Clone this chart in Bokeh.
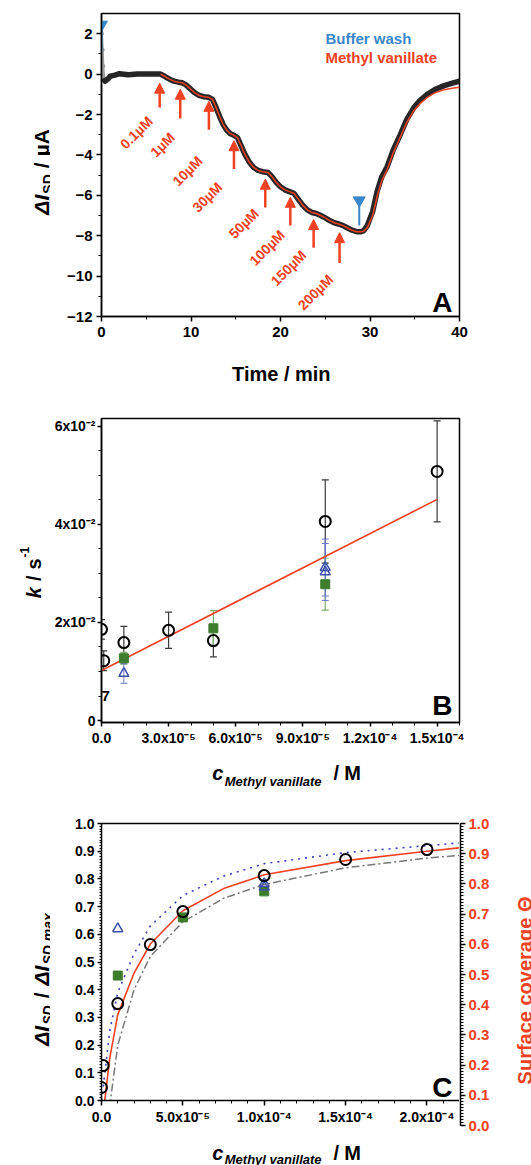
import math
import numpy as np
from bokeh.plotting import figure
from bokeh.layouts import column, row
from bokeh.models import (FixedTicker, CustomJSTickFormatter, Label, ColumnDataSource,
                          Whisker, TeeHead, Arrow, NormalHead, LinearAxis, Range1d)
from bokeh.embed import file_html
from bokeh.resources import INLINE
from bokeh.core.properties import value

# ---------------- Panel A data ----------------
trace_t = [0.00, 0.08, 0.15, 0.25, 0.40, 0.70, 1.00, 1.50, 2.00, 3.00, 4.00, 5.00, 6.00,
           6.60, 7.10, 7.60, 8.10, 8.60, 9.00, 9.40, 9.90, 10.40, 10.90, 11.40, 12.00,
           12.40, 12.80, 13.20, 13.60, 14.00, 14.40, 14.80, 15.20, 15.60, 16.00, 16.50,
           17.00, 17.50, 18.00, 18.60, 19.00, 19.50, 20.00, 20.50, 21.00, 21.50, 22.00,
           22.50, 23.00, 23.50, 24.00, 24.50, 25.00, 25.50, 26.00, 26.50, 27.00, 27.50,
           28.00, 28.50, 29.00, 29.30, 29.70, 30.30, 30.80, 31.30, 31.90, 32.60, 33.40,
           34.10, 34.90, 35.60, 36.40, 37.30, 38.30, 39.20, 40.00]
trace_y = [2.00, 1.20, 0.40, -0.20, -0.35, -0.25, -0.10, -0.05, 0.02, -0.03, 0.00, 0.00, 0.00,
           0.00, -0.12, -0.25, -0.35, -0.40, -0.43, -0.52, -0.72, -0.92, -1.05, -1.12, -1.15,
           -1.25, -1.65, -2.10, -2.50, -2.78, -2.95, -3.03, -3.15, -3.55, -3.95, -4.35,
           -4.62, -4.77, -4.83, -4.87, -5.05, -5.35, -5.58, -5.73, -5.82, -5.90, -6.20,
           -6.50, -6.72, -6.85, -6.90, -7.00, -7.12, -7.25, -7.36, -7.42, -7.50, -7.62,
           -7.73, -7.80, -7.80, -7.75, -7.50, -6.80, -5.80, -5.10, -4.60, -3.75, -2.98,
           -2.25, -1.66, -1.30, -1.00, -0.75, -0.57, -0.45, -0.35]
fit_t = [6.60, 7.10, 7.60, 8.10, 8.60, 9.00, 9.40, 9.90, 10.40, 10.90, 11.40, 12.00,
         12.40, 12.80, 13.20, 13.60, 14.00, 14.40, 14.80, 15.20, 15.60, 16.00, 16.50,
         17.00, 17.50, 18.00, 18.60, 19.00, 19.50, 20.00, 20.50, 21.00, 21.50, 22.00,
         22.50, 23.00, 23.50, 24.00, 24.50, 25.00, 25.50, 26.00, 26.50, 27.00, 27.50,
         28.00, 28.50, 29.00, 29.30, 29.70, 30.30, 30.80, 31.30, 31.90, 32.60, 33.40,
         34.10, 34.90, 35.60, 36.40, 37.30, 38.30, 39.20, 40.00]
fit_y = [0.00, -0.12, -0.25, -0.35, -0.40, -0.43, -0.52, -0.72, -0.92, -1.05, -1.12, -1.15,
         -1.25, -1.65, -2.10, -2.50, -2.78, -2.95, -3.03, -3.15, -3.55, -3.95, -4.35,
         -4.62, -4.77, -4.83, -4.87, -5.05, -5.35, -5.58, -5.73, -5.82, -5.90, -6.20,
         -6.50, -6.72, -6.85, -6.90, -7.00, -7.12, -7.25, -7.36, -7.42, -7.50, -7.62,
         -7.73, -7.80, -7.80, -7.78, -7.60, -7.00, -6.05, -5.30, -4.75, -3.90, -3.10,
         -2.40, -1.80, -1.45, -1.15, -0.92, -0.77, -0.70, -0.65]
wash_t = [0.0, 28.8]
wash_top = [2.45, -6.25]
wash_bottom = [1.2, -7.5]
inject_t = [6.5, 8.8, 12.0, 14.8, 18.3, 21.1, 23.7, 26.6]
inject_tip = [-0.45, -0.75, -1.35, -3.3, -5.2, -6.1, -7.2, -7.85]
inject_base = [-1.65, -2.2, -2.75, -4.7, -6.6, -7.5, -8.6, -9.35]
conc_labels = ["0.1µM", "1µM", "10µM", "30µM", "50µM", "100µM", "150µM", "200µM"]
conc_label_t = [3.9, 6.8, 9.6, 11.8, 15.9, 18.5, 20.9, 23.9]
conc_label_y = [-2.9, -3.5, -4.8, -6.1, -7.4, -8.6, -9.6, -10.8]
a_xticks = [0, 10, 20, 30, 40]
a_yticks = [-12, -10, -8, -6, -4, -2, 0, 2]

# ---------------- Panel B data ----------------
b_circ_x = [0.0, 1e-6, 1e-5, 3e-5, 5e-5, 1e-4, 1.5e-4]
b_circ_y = [0.0186, 0.0122, 0.0159, 0.0184, 0.0163, 0.0406, 0.0508]
b_circ_err = [0.002, 0.002, 0.0033, 0.0037, 0.0033, 0.0085, 0.0103]
b_sq_x = [1e-5, 5e-5, 1e-4]
b_sq_y = [0.0127, 0.0188, 0.0278]
b_sq_err = [0.0012, 0.0036, 0.0053]
b_tri_x = [1e-5, 1e-4, 1e-4]
b_tri_y = [0.0096, 0.0312, 0.0303]
b_tri_err = [0.002, 0.0058, 0.0058]
b_fit_x = [0.0, 1.5e-4]
b_fit_y = [0.0102, 0.0451]
b_xticks = [0.0, 3e-5, 6e-5, 9e-5, 1.2e-4, 1.5e-4]
b_xlabels = ["0.0", "3.0x10⁻⁵", "6.0x10⁻⁵", "9.0x10⁻⁵", "1.2x10⁻⁴", "1.5x10⁻⁴"]
b_yticks = [0.0, 0.02, 0.04, 0.06]
b_ylabels = ["0", "2x10⁻²", "4x10⁻²", "6x10⁻²"]

# ---------------- Panel C data ----------------
c_circ_x = [0.0, 1e-6, 1e-5, 3e-5, 5e-5, 1e-4, 1.5e-4, 2e-4]
c_circ_y = [0.047, 0.126, 0.35, 0.563, 0.682, 0.812, 0.87, 0.906]
c_sq_x = [1e-5, 5e-5, 1e-4]
c_sq_y = [0.451, 0.661, 0.755]
c_tri_x = [1e-5, 1e-4, 1e-4]
c_tri_y = [0.62, 0.783, 0.77]
c_red_x = [0.05e-5, 0.2e-5, 0.5e-5, 1e-5, 2e-5, 3e-5, 5e-5, 7.5e-5, 1e-4, 1.5e-4, 2e-4, 2.2e-4]
c_red_y = [-0.08, 0.0, 0.15, 0.31, 0.46, 0.565, 0.685, 0.765, 0.815, 0.866, 0.90, 0.912]
c_blue_x = [0.0, 0.25e-5, 0.5e-5, 1e-5, 2e-5, 3e-5, 5e-5, 7.5e-5, 1e-4, 1.5e-4, 2e-4, 2.2e-4]
c_blue_y = [0.0, 0.12, 0.25, 0.39, 0.53, 0.63, 0.74, 0.81, 0.855, 0.895, 0.92, 0.93]
c_gray_x = [0.2e-5, 0.55e-5, 1e-5, 2e-5, 3e-5, 5e-5, 7.5e-5, 1e-4, 1.5e-4, 2e-4, 2.2e-4]
c_gray_y = [-0.08, 0.0, 0.2, 0.40, 0.52, 0.645, 0.73, 0.78, 0.84, 0.875, 0.885]
c_xticks = [0.0, 5e-5, 1e-4, 1.5e-4, 2e-4]
c_xlabels = ["0.0", "5.0x10⁻⁵", "1.0x10⁻⁴", "1.5x10⁻⁴", "2.0x10⁻⁴"]
c_yticks = [round(0.1 * i, 1) for i in range(11)]

# ---------------- styling ----------------
FONT = "Liberation Sans"
RED = "#ef4123"
BLUE_L = "#3a87c9"
GREEN = "#3d7d2c"
BLUE_D = "#3c4fa9"

W = {' ': 0.278, '/': 0.278, 'A': 0.722, 'B': 0.722, 'I': 0.278, 'S': 0.667, 'D': 0.722,
     'M': 0.833, 'T': 0.611, 'Δ': 0.65, 'Θ': 0.778, 'µ': 0.611, 'k': 0.556, 's': 0.556,
     'c': 0.556, 'e': 0.556, 't': 0.333, 'h': 0.611, 'y': 0.556, 'l': 0.278, 'v': 0.556,
     'a': 0.556, 'n': 0.611, 'i': 0.278, 'm': 0.889, 'x': 0.556, ',': 0.278, '-': 0.333,
     '1': 0.556, 'u': 0.611, 'r': 0.389, 'f': 0.333, 'o': 0.611, 'g': 0.611, 'w': 0.778}


def tw(s, size):
    return sum(W.get(ch, 0.6) for ch in s) * size


def clean(p):
    p.xgrid.visible = False
    p.ygrid.visible = False
    return p


def label(p, ox, oy, px, py, text, size, style="bold", color="black", align="left",
          baseline="alphabetic", angle=0.0):
    # annotation given in page pixels; (ox, oy) = page position of the canvas
    p.add_layout(Label(x=px - ox, y=py - oy, x_units="canvas", y_units="canvas", text=text,
                       angle=angle, text_align=align, text_baseline=baseline,
                       text_font=FONT, text_font_size=f"{size}px",
                       text_font_style=style, text_color=color))


class TextFig:
    """A plain figure whose frame is the whole canvas, used for axis titles."""

    def __init__(self, ox, oy, w, h):
        self.ox, self.oy, self.w, self.h = ox, oy, w, h
        self.p = clean(figure(width=w, height=h, x_range=Range1d(0, w), y_range=Range1d(0, h),
                              min_border=0, x_axis_location=None, y_axis_location=None,
                              toolbar_location=None, output_backend="svg",
                              outline_line_color=None, background_fill_color="white",
                              border_fill_color="white"))

    def rich(self, pieces, cx, cy, angle=0.0, color="black"):
        # pieces: (text, size, style, baseline shift, gap before)
        total = sum(tw(t, sz) + g for t, sz, st, dy, g in pieces)
        off = -total / 2
        for t, sz, st, dy, g in pieces:
            off += g
            w = tw(t, sz)
            if angle == 0.0:
                label(self.p, self.ox, self.oy, cx + off, cy - dy, t, sz, st, color, "left")
            else:
                label(self.p, self.ox, self.oy, cx - dy, cy - off, t, sz, st, color, "left",
                      angle=angle)
            off += w


def style_axis(ax, size=15, color="black", tick_out=5, minor_out=3, standoff=4):
    ax.axis_line_width = 1.5
    ax.axis_line_color = "black"
    ax.major_tick_line_width = 1.5
    ax.major_tick_line_color = "black"
    ax.minor_tick_line_width = 1.0
    ax.minor_tick_line_color = "black"
    ax.major_tick_in = 0
    ax.major_tick_out = tick_out
    ax.minor_tick_in = 0
    ax.minor_tick_out = minor_out
    ax.major_label_text_font = FONT
    ax.major_label_text_font_style = "bold"
    ax.major_label_text_font_size = f"{size}px"
    ax.major_label_text_color = color
    ax.major_label_standoff = standoff


def main_fig(frame_h, top, bottom, right, xr, yr, **kw):
    return clean(figure(frame_width=358, frame_height=frame_h, min_border_left=51,
                        min_border_right=right, min_border_top=top, min_border_bottom=bottom,
                        x_range=Range1d(*xr), y_range=Range1d(*yr), output_backend="svg",
                        toolbar_location=None, background_fill_color="white",
                        border_fill_color="white", **kw))

# ================= Panel A : page y 0..388 =================
pA = main_fig(303, 13, 32, 72, (0, 40), (-12, 3))      # page x 50..531, y 0..348
OXA, OYA = 50, 0
pA.outline_line_color = "black"
pA.outline_line_width = 1.5
pA.xaxis.ticker = FixedTicker(ticks=a_xticks, minor_ticks=[5, 15, 25, 35])
pA.yaxis.ticker = FixedTicker(ticks=a_yticks, minor_ticks=[-11, -9, -7, -5, -3, -1, 1])
style_axis(pA.xaxis[0], 15, standoff=5)
style_axis(pA.yaxis[0], 15, standoff=4)

pA.line(trace_t[:5], trace_y[:5], line_color="#9a9a9a", line_width=3)
pA.scatter(trace_t[:5], trace_y[:5], marker="circle", size=4, color="#9a9a9a")
pA.line(trace_t[3:], trace_y[3:], line_color="#262626", line_width=5.5, line_join="round")
pA.line(fit_t, fit_y, line_color=RED, line_width=1.5)

pA.segment(x0=wash_t, y0=wash_top, x1=wash_t, y1=wash_bottom, line_color=BLUE_L, line_width=2)
pA.scatter(wash_t, wash_top, marker="inverted_triangle", size=12, color=BLUE_L)

arr_src = ColumnDataSource(dict(x=inject_t, tip=inject_tip, base=inject_base))
pA.add_layout(Arrow(end=NormalHead(size=10, fill_color=RED, line_color=RED),
                    x_start="x", y_start="base", x_end="x", y_end="tip", source=arr_src,
                    line_color=RED, line_width=2.5))
pA.text(x=conc_label_t, y=conc_label_y, text=conc_labels, angle=math.pi / 4,
        text_align="center", text_baseline="middle", text_font=value(FONT),
        text_font_style="bold", text_font_size="14px", text_color=RED)

label(pA, OXA, OYA, 325, 38, "Buffer wash", 15, color=BLUE_L)
label(pA, OXA, OYA, 325, 57, "Methyl vanillate", 15, color=RED)
label(pA, OXA, OYA, 452, 302, "A", 28, align="right", baseline="middle")

tyA = TextFig(0, 0, 50, 388)
tyA.rich([("ΔI", 21, "bold italic", 0, 0), ("SD", 14, "bold", -6, 1.5),
          ("/", 21, "bold", 0, 6), ("µA", 21, "bold", 0, 6)],
         41, 171, angle=math.pi / 2)
txA = TextFig(50, 348, 481, 40)
txA.rich([("Time / min", 20, "bold", 0, 0)], 281, 373)
panelA = row(tyA.p, column(pA, txA.p, spacing=0), spacing=0)

# ================= Panel B : page y 388..790 =================
pB = main_fig(304, 30, 28, 72, (0, 1.6e-4), (-0.0004, 0.0616))   # page y 388..750
OXB, OYB = 50, 388
pB.outline_line_color = "black"
pB.outline_line_width = 1.5
pB.xaxis.ticker = FixedTicker(ticks=b_xticks, minor_ticks=[i * 1e-5 for i in range(17)])
pB.yaxis.ticker = FixedTicker(ticks=b_yticks, minor_ticks=[i * 0.005 for i in range(13)])
pB.xaxis.formatter = CustomJSTickFormatter(args=dict(labs=b_xlabels), code="return labs[index]")
pB.yaxis.formatter = CustomJSTickFormatter(args=dict(labs=b_ylabels), code="return labs[index]")
style_axis(pB.xaxis[0], 14, tick_out=4, minor_out=3, standoff=3)
style_axis(pB.yaxis[0], 14, tick_out=4, minor_out=3, standoff=2)


def errbars(p, xs, ys, es, color, width):
    src = ColumnDataSource(dict(x=xs, lo=[y - e for y, e in zip(ys, es)], hi=[y + e for y, e in zip(ys, es)]))
    p.add_layout(Whisker(source=src, base="x", upper="hi", lower="lo", line_color=color,
                         line_width=width,
                         upper_head=TeeHead(size=7, line_color=color, line_width=width),
                         lower_head=TeeHead(size=7, line_color=color, line_width=width)))


errbars(pB, b_circ_x, b_circ_y, b_circ_err, "#3a3a3a", 1.2)
errbars(pB, b_sq_x, b_sq_y, b_sq_err, "#7fae6a", 1.2)
errbars(pB, b_tri_x, b_tri_y, b_tri_err, "#6a78c8", 1.0)
pB.line(b_fit_x, b_fit_y, line_color=RED, line_width=1.6)
pB.scatter(b_sq_x, b_sq_y, marker="square", size=9, fill_color=GREEN, line_color=GREEN)
pB.scatter(b_tri_x, b_tri_y, marker="triangle", size=10, fill_color=None, line_color=BLUE_D, line_width=1.5)
pB.scatter(b_circ_x, b_circ_y, marker="circle", size=11, fill_color=None, line_color="black", line_width=2)
label(pB, OXB, OYB, 101, 695, "7", 15, baseline="middle")
label(pB, OXB, OYB, 452, 705, "B", 28, align="right", baseline="middle")

tyB = TextFig(0, 388, 50, 402)
tyB.rich([("k", 20, "bold italic", 0, 0), ("/", 20, "bold", 0, 6), ("s", 20, "bold", 0, 6),
          ("-1", 12, "bold", 9, 1)],
         33, 572, angle=math.pi / 2)
txB = TextFig(50, 750, 481, 40)
txB.rich([("c", 20, "bold italic", 0, 0), ("Methyl vanillate", 13, "bold italic", -9, 1.5),
          ("/", 20, "bold", 0, 12), ("M", 20, "bold", 0, 5)], 286, 772)
panelB = row(tyB.p, column(pB, txB.p, spacing=0), spacing=0)

# ================= Panel C : page y 790..1165 =================
pC = main_fig(277, 33, 28, 0, (0, 2.2e-4), (0.0, 1.0))     # page x 50..459, y 790..1128
OXC, OYC = 50, 790
pC.outline_line_color = None
pC.xaxis.ticker = FixedTicker(ticks=c_xticks, minor_ticks=[i * 1e-5 for i in range(23)])
pC.xaxis.formatter = CustomJSTickFormatter(args=dict(labs=c_xlabels), code="return labs[index]")
style_axis(pC.xaxis[0], 14, tick_out=5, minor_out=3, standoff=3)
pC.yaxis.ticker = FixedTicker(ticks=c_yticks, minor_ticks=[i * 0.01 for i in range(101)])
pC.yaxis.formatter = CustomJSTickFormatter(code="return tick.toFixed(1)")
style_axis(pC.yaxis[0], 14, tick_out=4, minor_out=2, standoff=3)
ax_top = LinearAxis(ticker=FixedTicker(ticks=[]))
ax_top.axis_line_width = 1.5
ax_top.axis_line_color = "black"
pC.add_layout(ax_top, "above")

pC.line(c_gray_x, c_gray_y, line_color="#777777", line_width=1.5, line_dash="8 3 2 3")
pC.line(c_blue_x, c_blue_y, line_color="#3d3fb5", line_width=1.6, line_dash="2 5")
pC.line(c_red_x, c_red_y, line_color=RED, line_width=1.6)
pC.scatter(c_sq_x, c_sq_y, marker="square", size=9, fill_color=GREEN, line_color=GREEN)
pC.scatter(c_tri_x, c_tri_y, marker="triangle", size=10, fill_color=None, line_color=BLUE_D, line_width=1.5)
pC.scatter(c_circ_x, c_circ_y, marker="circle", size=11, fill_color=None, line_color="black", line_width=2)
label(pC, OXC, OYC, 452, 1087, "C", 28, align="right", baseline="middle")

# surface-coverage axis: a 1-px-wide frame whose right axis spans page y 823..1125
pR = clean(figure(frame_width=1, frame_height=302, min_border_left=0, min_border_right=44,
                  min_border_top=33, min_border_bottom=40, x_range=Range1d(0, 1),
                  y_range=Range1d(0, 1), x_axis_location=None, y_axis_location="right",
                  toolbar_location=None, output_backend="svg", outline_line_color=None,
                  background_fill_color="white", border_fill_color="white"))
ax_r = pR.yaxis[0]
ax_r.ticker = FixedTicker(ticks=c_yticks, minor_ticks=[i * 0.01 for i in range(101)])
ax_r.formatter = CustomJSTickFormatter(code="return tick.toFixed(1)")
style_axis(ax_r, 15, color=RED, tick_out=5, minor_out=3, standoff=3)

trC = TextFig(504, 790, 27, 375)
trC.rich([("Surface coverage Θ", 20, "bold", 0, 0)], 524, 990, angle=math.pi / 2, color=RED)

tyC = TextFig(0, 790, 50, 375)
tyC.rich([("ΔI", 21, "bold italic", 0, 0), ("SD", 14, "bold italic", -6, 1.5),
          ("/", 21, "bold", 0, 7), ("ΔI", 21, "bold italic", 0, 7),
          ("SD,max", 14, "bold italic", -6, 1.5)],
         41, 979, angle=math.pi / 2)
txC = TextFig(50, 1128, 409, 37)
txC.rich([("c", 20, "bold italic", 0, 0), ("Methyl vanillate", 13, "bold italic", -7, 1.5),
          ("/", 20, "bold", 0, 12), ("M", 20, "bold", 0, 5)], 286, 1152)
panelC = row(tyC.p, column(pC, txC.p, spacing=0), pR, trC.p, spacing=0)

layout = column(panelA, panelB, panelC, spacing=0)
open("out.html", "w").write(file_html(layout, INLINE))
